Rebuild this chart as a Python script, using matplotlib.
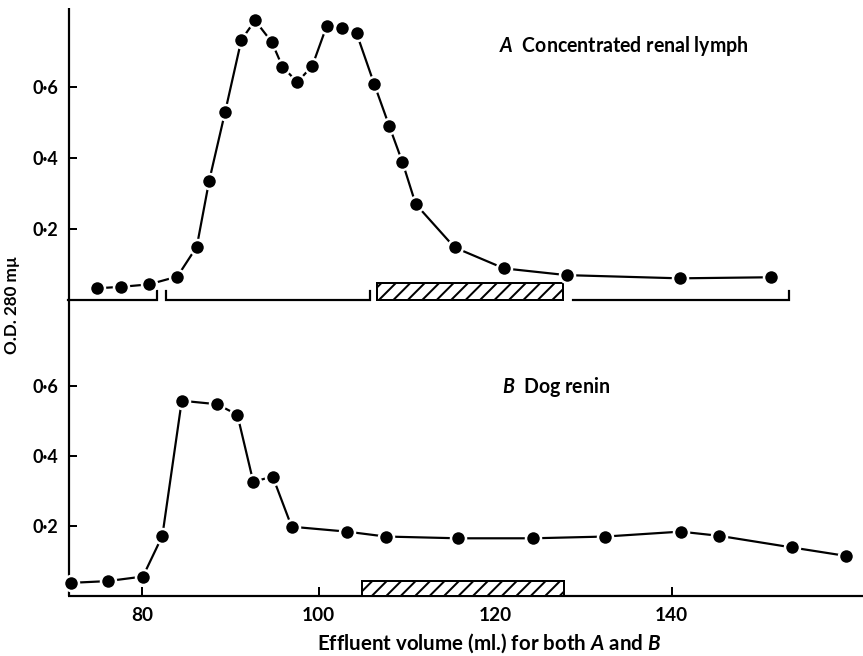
import matplotlib.pyplot as plt

DPI = 130


def px(v):
    # sizes below are worked out in pixels, convert to points
    return v * 72 / DPI


plt.rcParams['font.family'] = ['Lato', 'DejaVu Sans']
plt.rcParams['font.weight'] = 'bold'
plt.rcParams['mathtext.fontset'] = 'custom'
plt.rcParams['mathtext.rm'] = 'Lato:bold'
plt.rcParams['mathtext.it'] = 'Lato:italic:bold'
plt.rcParams['hatch.linewidth'] = px(2)

# A  concentrated renal lymph
vol_a = [74.9, 77.6, 80.8, 84.0, 86.2, 87.6, 89.4, 91.25, 92.8, 94.7, 95.9, 97.6,
         99.3, 100.9, 102.6, 104.3, 106.3, 108.0, 109.5, 111.0, 115.4, 121.0,
         128.1, 140.9, 151.2]
od_a = [0.033, 0.037, 0.044, 0.066, 0.150, 0.335, 0.528, 0.732, 0.787, 0.726,
        0.657, 0.613, 0.660, 0.770, 0.765, 0.751, 0.608, 0.490, 0.388, 0.270,
        0.148, 0.089, 0.070, 0.061, 0.064]

# B  dog renin
vol_b = [71.95, 76.1, 80.1, 82.3, 84.5, 88.5, 90.8, 92.6, 94.8, 96.95, 103.2,
         107.6, 115.8, 124.3, 132.5, 141.0, 145.4, 153.6, 159.7]
od_b = [0.038, 0.043, 0.056, 0.172, 0.557, 0.547, 0.517, 0.326, 0.341, 0.198,
        0.184, 0.170, 0.165, 0.165, 0.170, 0.184, 0.172, 0.139, 0.115]

# pooled fractions of run A: start, end, end-mark at start, end-mark at end
pools_a = [(71.67, 81.7, False, True),
           (82.7, 105.8, True, True),
           (128.8, 153.3, False, True)]
# hatched = renin activity
active_a = (106.65, 127.72)
active_b = (104.88, 127.83)

yticks = [0.2, 0.4, 0.6]
ylabels = ['0\u00b72', '0\u00b74', '0\u00b76']
xticks = [80, 100, 120, 140]
xlim = (71.67, 161.67)

W, H = 863, 656
fig = plt.figure(figsize=(W / DPI, H / DPI), dpi=DPI)
left = 68.5 / W
ax_a = fig.add_axes([left, (H - 300) / H, 1 - left, 292 / H])
ax_b = fig.add_axes([left, (H - 596.2) / H, 1 - left, 296.2 / H])
ax_a.set_ylim(0, 0.822)
ax_b.set_ylim(0, 0.844)

for ax in (ax_a, ax_b):
    ax.set_xlim(*xlim)
    ax.patch.set_alpha(0)
    for s in ('top', 'right'):
        ax.spines[s].set_visible(False)
    for s in ('left', 'bottom'):
        ax.spines[s].set_linewidth(px(2.2))
        ax.spines[s].set_capstyle('butt')
    ax.set_yticks(yticks, ylabels)
    ax.tick_params(axis='y', direction='in', length=px(8), width=px(2),
                   pad=px(10), labelsize=px(18))

ax_a.spines['bottom'].set_visible(False)
ax_a.set_xticks([])

ax_b.set_xticks(xticks, [str(t) for t in xticks])
ax_b.tick_params(axis='x', direction='in', length=px(9), width=px(2),
                 pad=px(11), labelsize=px(19))

line_kw = dict(color='black', lw=px(2.2), marker='o', ms=px(15),
               mfc='black', mec='white', mew=px(2.5), clip_on=False, zorder=4)
ax_a.plot(vol_a, od_a, **line_kw)
ax_b.plot(vol_b, od_b, **line_kw)

# pool brackets under curve A
tick_h = 0.026
for x0, x1, t0, t1 in pools_a:
    xs, ys = [x0, x1], [0, 0]
    if t0:
        xs, ys = [x0] + xs, [tick_h] + ys
    if t1:
        xs, ys = xs + [x1], ys + [tick_h]
    ax_a.plot(xs, ys, color='black', lw=px(2.2), solid_joinstyle='miter',
              clip_on=False, zorder=3)

bar_kw = dict(align='edge', color='white', edgecolor='black', hatch='///',
              linewidth=px(2), zorder=3, clip_on=False)
ax_a.bar(active_a[0], 0.047, width=active_a[1] - active_a[0], **bar_kw)
ax_b.bar(active_b[0], 0.043, width=active_b[1] - active_b[0], **bar_kw)

ax_a.text(120.4, 0.699, r'$\mathit{A}$  Concentrated renal lymph',
          fontsize=px(19.5), va='baseline', ha='left')
ax_b.text(120.8, 0.579, r'$\mathit{B}$  Dog renin',
          fontsize=px(19.5), va='baseline', ha='left')

fig.text(489.5 / W, 1 - 650 / H,
         r'Effluent volume (ml.) for both $\mathit{A}$ and $\mathit{B}$',
         fontsize=px(20.5), ha='center', va='baseline')
fig.text(12.5 / W, 1 - 305 / H, 'O.D. 280 m\u00b5', fontsize=px(17),
         rotation=90, ha='center', va='center')

fig.savefig('out.png', dpi=DPI)
